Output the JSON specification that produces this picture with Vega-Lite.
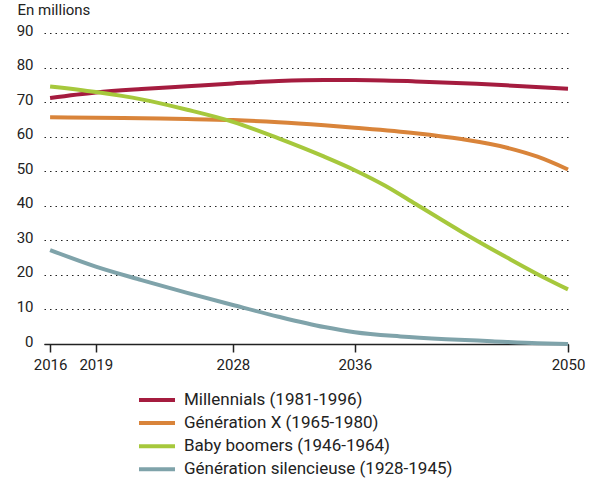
{
  "$schema": "https://vega.github.io/schema/vega-lite/v6.json",
  "autosize": {"type": "none"},
  "width": 524,
  "height": 311,
  "padding": {"left": 44, "top": 33, "right": 32, "bottom": 135},
  "background": "white",
  "config": {
    "font": "Roboto",
    "view": {"stroke": null}
  },
  "data": {
    "values": [
      {"year": 2016, "generation": "Millennials (1981-1996)", "value": 71.2},
      {"year": 2019, "generation": "Millennials (1981-1996)", "value": 72.8},
      {"year": 2022, "generation": "Millennials (1981-1996)", "value": 73.8},
      {"year": 2025, "generation": "Millennials (1981-1996)", "value": 74.6},
      {"year": 2028, "generation": "Millennials (1981-1996)", "value": 75.4},
      {"year": 2031, "generation": "Millennials (1981-1996)", "value": 76.1},
      {"year": 2034, "generation": "Millennials (1981-1996)", "value": 76.4},
      {"year": 2036, "generation": "Millennials (1981-1996)", "value": 76.4},
      {"year": 2040, "generation": "Millennials (1981-1996)", "value": 76.0},
      {"year": 2044, "generation": "Millennials (1981-1996)", "value": 75.3},
      {"year": 2047, "generation": "Millennials (1981-1996)", "value": 74.6},
      {"year": 2050, "generation": "Millennials (1981-1996)", "value": 73.9},
      {"year": 2016, "generation": "Génération X (1965-1980)", "value": 65.6},
      {"year": 2019, "generation": "Génération X (1965-1980)", "value": 65.5},
      {"year": 2022, "generation": "Génération X (1965-1980)", "value": 65.3},
      {"year": 2025, "generation": "Génération X (1965-1980)", "value": 65.1},
      {"year": 2028, "generation": "Génération X (1965-1980)", "value": 64.8},
      {"year": 2031, "generation": "Génération X (1965-1980)", "value": 64.2},
      {"year": 2034, "generation": "Génération X (1965-1980)", "value": 63.3},
      {"year": 2036, "generation": "Génération X (1965-1980)", "value": 62.6},
      {"year": 2040, "generation": "Génération X (1965-1980)", "value": 61.0},
      {"year": 2043, "generation": "Génération X (1965-1980)", "value": 59.3},
      {"year": 2046, "generation": "Génération X (1965-1980)", "value": 56.8},
      {"year": 2048, "generation": "Génération X (1965-1980)", "value": 54.2},
      {"year": 2050, "generation": "Génération X (1965-1980)", "value": 50.5},
      {"year": 2016, "generation": "Baby boomers (1946-1964)", "value": 74.5},
      {"year": 2019, "generation": "Baby boomers (1946-1964)", "value": 72.9},
      {"year": 2022, "generation": "Baby boomers (1946-1964)", "value": 70.8},
      {"year": 2025, "generation": "Baby boomers (1946-1964)", "value": 67.8},
      {"year": 2028, "generation": "Baby boomers (1946-1964)", "value": 64.3},
      {"year": 2031, "generation": "Baby boomers (1946-1964)", "value": 59.5},
      {"year": 2034, "generation": "Baby boomers (1946-1964)", "value": 54.2},
      {"year": 2036, "generation": "Baby boomers (1946-1964)", "value": 50.3},
      {"year": 2038, "generation": "Baby boomers (1946-1964)", "value": 45.8},
      {"year": 2040, "generation": "Baby boomers (1946-1964)", "value": 40.5},
      {"year": 2043, "generation": "Baby boomers (1946-1964)", "value": 32.5},
      {"year": 2046, "generation": "Baby boomers (1946-1964)", "value": 25.0},
      {"year": 2048, "generation": "Baby boomers (1946-1964)", "value": 20.2},
      {"year": 2050, "generation": "Baby boomers (1946-1964)", "value": 15.8},
      {"year": 2016, "generation": "Génération silencieuse (1928-1945)", "value": 27.2},
      {"year": 2019, "generation": "Génération silencieuse (1928-1945)", "value": 22.4},
      {"year": 2022, "generation": "Génération silencieuse (1928-1945)", "value": 18.5},
      {"year": 2025, "generation": "Génération silencieuse (1928-1945)", "value": 14.8},
      {"year": 2028, "generation": "Génération silencieuse (1928-1945)", "value": 11.3},
      {"year": 2031, "generation": "Génération silencieuse (1928-1945)", "value": 7.9},
      {"year": 2034, "generation": "Génération silencieuse (1928-1945)", "value": 4.9},
      {"year": 2036, "generation": "Génération silencieuse (1928-1945)", "value": 3.4},
      {"year": 2039, "generation": "Génération silencieuse (1928-1945)", "value": 2.2},
      {"year": 2042, "generation": "Génération silencieuse (1928-1945)", "value": 1.4},
      {"year": 2045, "generation": "Génération silencieuse (1928-1945)", "value": 0.8},
      {"year": 2048, "generation": "Génération silencieuse (1928-1945)", "value": 0.2},
      {"year": 2050, "generation": "Génération silencieuse (1928-1945)", "value": 0.0}
    ]
  },
  "mark": {"type": "line", "strokeWidth": 4, "interpolate": "monotone"},
  "encoding": {
    "x": {
      "field": "year",
      "type": "quantitative",
      "scale": {"domain": [2015.6, 2050], "nice": false, "zero": false},
      "axis": {
        "values": [2016, 2019, 2028, 2036, 2050],
        "format": "d",
        "title": null,
        "grid": false,
        "domainColor": "#222222",
        "domainWidth": 1.5,
        "tickColor": "#222222",
        "tickWidth": 1.5,
        "tickSize": 8,
        "labelFontSize": 15,
        "labelColor": "#222222",
        "labelPadding": 5,
        "labelFlush": false
      }
    },
    "y": {
      "field": "value",
      "type": "quantitative",
      "scale": {"domain": [0, 90], "nice": false},
      "axis": {
        "values": [0, 10, 20, 30, 40, 50, 60, 70, 80, 90],
        "title": "En millions",
        "titleAngle": 0,
        "titleAlign": "left",
        "titleBaseline": "top",
        "titleX": -27,
        "titleY": -31,
        "titleFontSize": 15,
        "titleFontWeight": "normal",
        "titleColor": "#222222",
        "domain": false,
        "ticks": false,
        "grid": true,
        "gridColor": "#222222",
        "gridDash": [1.5, 4],
        "gridWidth": 1.2,
        "labelFontSize": 15,
        "labelColor": "#222222",
        "labelPadding": 11,
        "labelOffset": -3
      }
    },
    "color": {
      "field": "generation",
      "type": "nominal",
      "sort": ["Millennials (1981-1996)", "Génération X (1965-1980)", "Baby boomers (1946-1964)", "Génération silencieuse (1928-1945)"],
      "scale": {
        "domain": ["Millennials (1981-1996)", "Génération X (1965-1980)", "Baby boomers (1946-1964)", "Génération silencieuse (1928-1945)"],
        "range": ["#a51c3f", "#d9843a", "#a6c83c", "#7fa3aa"]
      },
      "legend": {
        "title": null,
        "orient": "none",
        "legendX": 102,
        "legendY": 356,
        "symbolType": "M-2,0H2",
        "symbolSize": 324,
        "symbolStrokeWidth": 4,
        "labelFontSize": 17,
        "labelColor": "#222222",
        "labelOffset": 16,
        "rowPadding": 4.1,
        "padding": 0,
        "labelLimit": 400
      }
    }
  }
}
